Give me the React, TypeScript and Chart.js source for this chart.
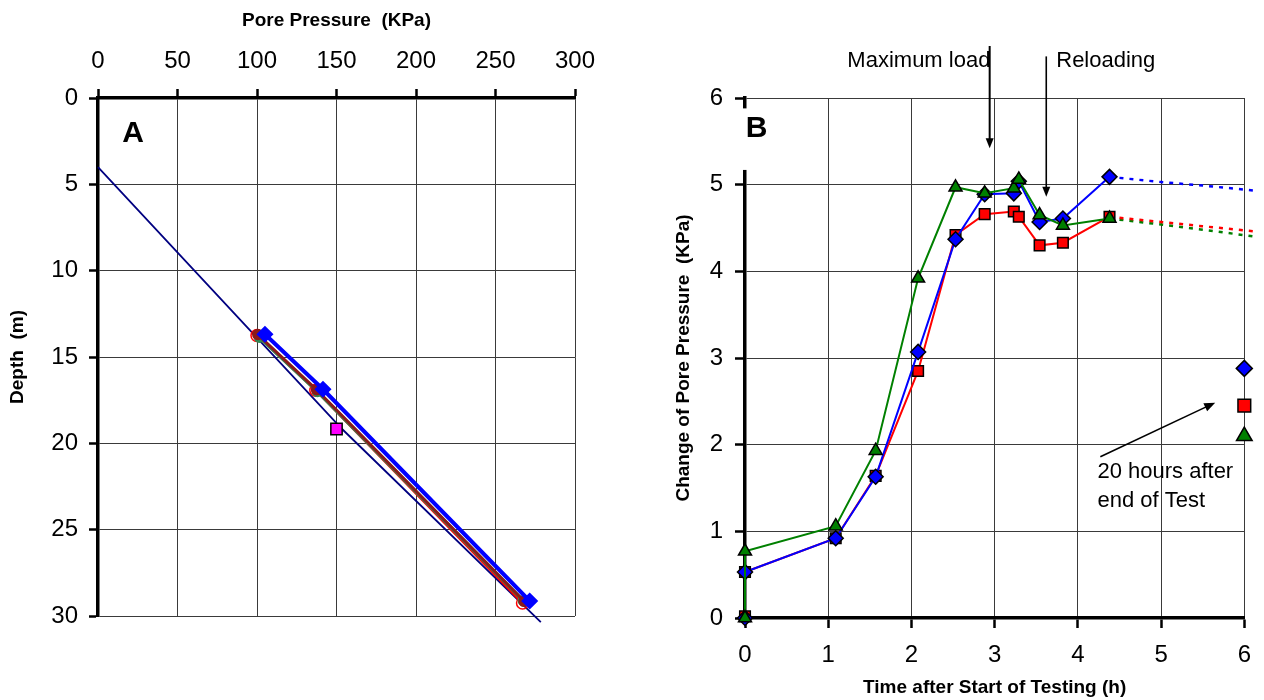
import React, { useEffect, useRef } from 'react';
import { Chart, registerables } from 'chart.js';

Chart.register(...registerables);

const FONT = '"Liberation Sans", Arial, Helvetica, sans-serif';

// ---------- Panel A: pore pressure vs depth ----------
const pressureTickStep = 50;
const depthTickStep = 5;
const aBluePressure = [105, 141.5, 271.5];
const aBlueDepth = [13.68, 16.87, 29.13];
const aMaroonPressure = [100.5, 137.5, 268];
const aMaroonDepth = [13.7, 16.9, 29.15];
const aGreenPressure = [101.5, 138, 267.5];
const aGreenDepth = [13.85, 17.0, 29.12];
const aRedPressure = [100, 137, 267];
const aRedDepth = [13.75, 16.93, 29.25];
const aMagentaPressure = [150];
const aMagentaDepth = [19.17];
const hydroPressure = [0, 153.5, 278.5];
const hydroDepth = [4.0, 19.17, 30.35];

// ---------- Panel B: change of pore pressure vs time ----------
const bTime = [0, 0, 1.09, 1.57, 2.08, 2.53, 2.88, 3.23, 3.29, 3.54, 3.82, 4.38];
const bBlue = [0, 0.53, 0.92, 1.63, 3.07, 4.37, 4.89, 4.9, 5.04, 4.57, 4.61, 5.09];
const bRed = [0.02, 0.53, 0.92, 1.64, 2.85, 4.42, 4.66, 4.69, 4.63, 4.3, 4.33, 4.63];
const bGreen = [0, 0.77, 1.06, 1.93, 3.92, 4.97, 4.9, 4.96, 5.06, 4.65, 4.53, 4.61];
const trendTime = [4.38, 5.0, 5.5, 6.14];
const blueTrend = [5.09, 5.03, 4.99, 4.93];
const redTrend = [4.63, 4.57, 4.52, 4.46];
const greenTrend = [4.61, 4.54, 4.48, 4.4];
const after20hTime = [6];
const blue20h = [2.88];
const red20h = [2.45];
const green20h = [2.1];

const zip = (xs: number[], ys: number[]) => xs.map((x, i) => ({ x, y: ys[i] }));

function drawArrow(ctx: CanvasRenderingContext2D, x1: number, y1: number, x2: number, y2: number, lw: number, head: number) {
  const ang = Math.atan2(y2 - y1, x2 - x1);
  const c = Math.cos(ang), s = Math.sin(ang);
  ctx.save();
  ctx.strokeStyle = '#000';
  ctx.fillStyle = '#000';
  ctx.lineWidth = lw;
  ctx.beginPath();
  ctx.moveTo(x1, y1);
  ctx.lineTo(x2 - c * head * 0.8, y2 - s * head * 0.8);
  ctx.stroke();
  const w = head * 0.4;
  ctx.beginPath();
  ctx.moveTo(x2, y2);
  ctx.lineTo(x2 - c * head + s * w, y2 - s * head - c * w);
  ctx.lineTo(x2 - c * head - s * w, y2 - s * head + c * w);
  ctx.closePath();
  ctx.fill();
  ctx.restore();
}

const labelAPlugin = {
  id: 'labelA',
  afterDraw(chart: any) {
    const { ctx, scales } = chart;
    const x = scales.x.getPixelForValue(22);
    const y = scales.y.getPixelForValue(2.05);
    ctx.save();
    ctx.font = `bold 30px ${FONT}`;
    ctx.fillStyle = '#000';
    ctx.textAlign = 'center';
    ctx.textBaseline = 'middle';
    ctx.fillText('A', x, y);
    ctx.restore();
  },
};

const annotBPlugin = {
  id: 'annotB',
  afterDraw(chart: any) {
    const { ctx, scales } = chart;
    const X = (v: number) => scales.x.getPixelForValue(v);
    const Y = (v: number) => scales.y.getPixelForValue(v);
    ctx.save();
    // white box behind B label (interrupts the axis)
    ctx.fillStyle = '#fff';
    ctx.fillRect(X(0) - 4, Y(5.88), 48, Y(5.17) - Y(5.88));
    ctx.font = `bold 30px ${FONT}`;
    ctx.fillStyle = '#000';
    ctx.textAlign = 'center';
    ctx.textBaseline = 'middle';
    ctx.fillText('B', X(0.14), Y(5.64));

    ctx.font = `22px ${FONT}`;
    ctx.textAlign = 'left';
    ctx.fillText('Maximum load', X(1.23), Y(6.43));
    ctx.fillText('Reloading', X(3.74), Y(6.43));
    ctx.fillText('20 hours after', X(4.235), Y(1.68));
    ctx.fillText('end of Test', X(4.235), Y(1.35));
    ctx.restore();

    drawArrow(ctx, X(2.94), Y(6.6), X(2.94), Y(5.42), 2, 10);
    drawArrow(ctx, X(3.62), Y(6.48), X(3.62), Y(4.86), 1.6, 10);
    drawArrow(ctx, X(4.27), Y(1.86), X(5.65), Y(2.485), 1.6, 11);
  },
};

function configA(): any {
  const grid = { color: '#3a3a3a', lineWidth: 1, tickLength: 9, tickColor: '#000', tickWidth: 2.5 };
  const border = { color: '#000', width: 3.5 };
  const band = (data: any[], color: string, bg: string, style: string, r: number, w: number) => ({
    data, showLine: true, borderColor: color, borderWidth: w, pointRadius: r,
    pointStyle: style, pointBackgroundColor: bg, pointBorderColor: color, pointBorderWidth: 1.5, clip: false,
  });
  return {
    type: 'scatter',
    data: {
      datasets: [
        {
          data: zip(aMagentaPressure, aMagentaDepth), pointStyle: 'rect', pointRadius: 8,
          pointBackgroundColor: '#ff00ff', pointBorderColor: '#000', pointBorderWidth: 1.5, clip: false,
        },
        band(zip(aBluePressure, aBlueDepth), '#0000ff', '#0000ff', 'rectRot', 7.5, 4),
        band(zip(aMaroonPressure, aMaroonDepth), '#8b1a1a', '#8b1a1a', 'circle', 5, 3),
        band(zip(aGreenPressure, aGreenDepth), '#2e8b57', '#2e8b57', 'circle', 5, 3.5),
        band(zip(aRedPressure, aRedDepth), '#ff0000', 'rgba(0,0,0,0)', 'circle', 6, 2.5),
        {
          data: zip(hydroPressure, hydroDepth), showLine: true, borderColor: '#000080', borderWidth: 1.8,
          pointRadius: 0, clip: false,
        },
      ],
    },
    options: {
      responsive: false,
      animation: false,
      events: [],
      layout: { padding: { left: 0, top: 0, right: 57, bottom: 84 } },
      plugins: { legend: { display: false }, tooltip: { enabled: false } },
      scales: {
        x: {
          type: 'linear', position: 'top', min: 0, max: 300,
          afterFit: (s: any) => { s.height = 98; },
          ticks: { stepSize: pressureTickStep, font: { family: FONT, size: 24 }, color: '#000', padding: 13, maxRotation: 0 },
          grid, border,
          title: { display: true, text: 'Pore Pressure  (KPa)', color: '#000', font: { family: FONT, size: 19, weight: 'bold' }, padding: { top: 9, bottom: 0 } },
        },
        y: {
          type: 'linear', position: 'left', min: 0, max: 30, reverse: true,
          afterFit: (s: any) => { s.width = 98; },
          ticks: { stepSize: depthTickStep, font: { family: FONT, size: 24 }, color: '#000', padding: 11 },
          grid, border,
          title: { display: true, text: 'Depth  (m)', color: '#000', font: { family: FONT, size: 19, weight: 'bold' }, padding: { top: 6, bottom: 0 } },
        },
      },
    },
    plugins: [labelAPlugin],
  };
}

function configB(): any {
  const grid = { color: '#3a3a3a', lineWidth: 1, tickLength: 10, tickColor: '#000', tickWidth: 2.5 };
  const border = { color: '#000', width: 3.5 };
  const series = (data: any[], color: string, style: string, r: number) => ({
    data, showLine: true, borderColor: color, borderWidth: 2, pointRadius: r, pointStyle: style,
    pointBackgroundColor: color, pointBorderColor: '#000', pointBorderWidth: 1.5, clip: false,
  });
  const trend = (data: any[], color: string) => ({
    data, showLine: true, borderColor: color, borderWidth: 2.5, borderDash: [4, 6], pointRadius: 0, clip: false,
  });
  const lone = (data: any[], color: string, style: string, r: number) => ({
    data, showLine: false, pointRadius: r, pointStyle: style, pointBackgroundColor: color,
    pointBorderColor: '#000', pointBorderWidth: 1.5, clip: false,
  });
  return {
    type: 'scatter',
    data: {
      datasets: [
        series(zip(bTime, bGreen), '#008000', 'triangle', 7.5),
        series(zip(bTime, bBlue), '#0000ff', 'rectRot', 7.5),
        series(zip(bTime, bRed), '#ff0000', 'rect', 7.5),
        trend(zip(trendTime, blueTrend), '#0000ff'),
        trend(zip(trendTime, redTrend), '#ff0000'),
        trend(zip(trendTime, greenTrend), '#008000'),
        lone(zip(after20hTime, blue20h), '#0000ff', 'rectRot', 8),
        lone(zip(after20hTime, red20h), '#ff0000', 'rect', 9),
        lone(zip(after20hTime, green20h), '#008000', 'triangle', 9),
      ],
    },
    options: {
      responsive: false,
      animation: false,
      events: [],
      layout: { padding: { left: 0, top: 98, right: 15, bottom: 0 } },
      plugins: { legend: { display: false }, tooltip: { enabled: false } },
      scales: {
        x: {
          type: 'linear', position: 'bottom', min: 0, max: 6,
          afterFit: (s: any) => { s.height = 82; },
          ticks: { stepSize: 1, font: { family: FONT, size: 24 }, color: '#000', padding: 13, maxRotation: 0 },
          grid, border,
          title: { display: true, text: 'Time after Start of Testing (h)', color: '#000', font: { family: FONT, size: 19, weight: 'bold' }, padding: { top: 0, bottom: 1 } },
        },
        y: {
          type: 'linear', position: 'left', min: 0, max: 6,
          afterFit: (s: any) => { s.width = 113; },
          ticks: { stepSize: 1, font: { family: FONT, size: 24 }, color: '#000', padding: 12 },
          grid, border,
          title: { display: true, text: 'Change of Pore Pressure  (KPa)', color: '#000', font: { family: FONT, size: 19, weight: 'bold' }, padding: { top: 40, bottom: 0 } },
        },
      },
    },
    plugins: [annotBPlugin],
  };
}

export default function App() {
  const refA = useRef<HTMLCanvasElement>(null);
  const refB = useRef<HTMLCanvasElement>(null);
  useEffect(() => {
    const a = new Chart(refA.current as HTMLCanvasElement, configA());
    const b = new Chart(refB.current as HTMLCanvasElement, configB());
    return () => {
      a.destroy();
      b.destroy();
    };
  }, []);
  return (
    <div style={{ position: 'absolute', left: 0, top: 0, width: 1264, height: 700, background: '#fff', overflow: 'hidden' }}>
      <canvas ref={refA} width={632} height={700} style={{ position: 'absolute', left: 0, top: 0 }} />
      <canvas ref={refB} width={632} height={700} style={{ position: 'absolute', left: 632, top: 0 }} />
    </div>
  );
}
